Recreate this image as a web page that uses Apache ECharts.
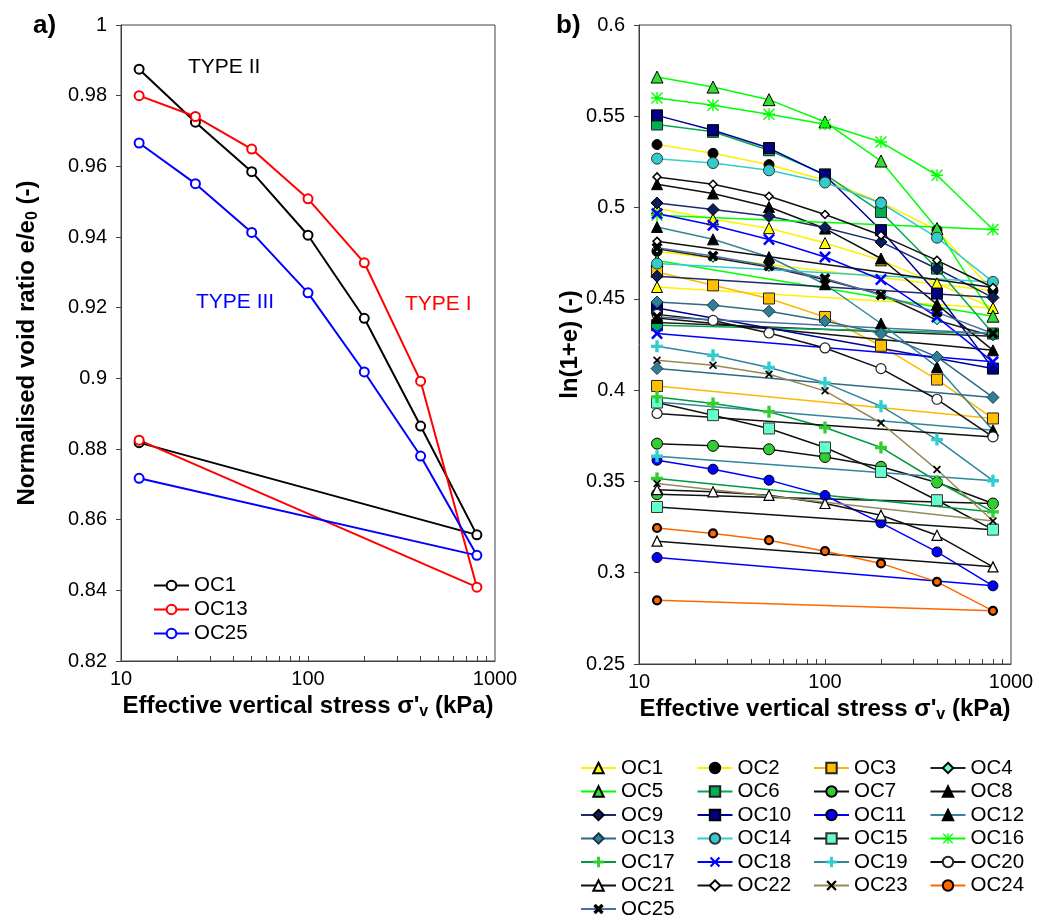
<!DOCTYPE html>
<html><head><meta charset="utf-8">
<script src="https://cdn.jsdelivr.net/npm/echarts@6/dist/echarts.min.js"></script>
<style>html,body{margin:0;padding:0;background:#fff}#c{width:1046px;height:919px}</style>
</head><body><div id="c"></div>
<script>
// ---------- data ----------
const stress = [12.5, 25, 50, 100, 200, 400, 800, 12.5];
const xTicks = [10, 100, 1000];
// panel a: normalised void ratio
const aOC1  = [0.9875, 0.9725, 0.9585, 0.9405, 0.9170, 0.8865, 0.8557, 0.8818];
const aOC13 = [0.9800, 0.9741, 0.9649, 0.9508, 0.9327, 0.8992, 0.8409, 0.8825];
const aOC25 = [0.9666, 0.9551, 0.9413, 0.9242, 0.9018, 0.8780, 0.8499, 0.8717];
// panel b: ln(1+e)
const OC1  = [0.4996, 0.4936, 0.4887, 0.4806, 0.4711, 0.4585, 0.4450, 0.4565];
const OC2  = [0.5345, 0.5297, 0.5235, 0.5150, 0.5030, 0.4876, 0.4545, 0.4760];
const OC3  = [0.4647, 0.4574, 0.4502, 0.4401, 0.4243, 0.4058, 0.3845, 0.4023];
const OC4  = [0.4775, 0.4725, 0.4675, 0.4605, 0.4525, 0.4383, 0.4295, 0.4370];
const OC5  = [0.5715, 0.5660, 0.5591, 0.5469, 0.5255, 0.4885, 0.4405, 0.4710];
const OC6  = [0.5455, 0.5415, 0.5314, 0.5182, 0.4976, 0.4666, 0.4310, 0.4355];
const OC7  = [0.3707, 0.3695, 0.3676, 0.3634, 0.3580, 0.3494, 0.3379, 0.3430];
const OC8  = [0.5128, 0.5077, 0.5003, 0.4885, 0.4721, 0.4470, 0.4218, 0.4395];
const OC9  = [0.5025, 0.4989, 0.4952, 0.4890, 0.4812, 0.4665, 0.4507, 0.4624];
const OC10 = [0.5505, 0.5424, 0.5326, 0.5177, 0.4876, 0.4529, 0.4118, 0.4450];
const OC11 = [0.3616, 0.3567, 0.3507, 0.3423, 0.3273, 0.3114, 0.2928, 0.3083];
const OC12 = [0.4894, 0.4826, 0.4729, 0.4580, 0.4365, 0.4127, 0.3780, 0.3935];
const OC13 = [0.4483, 0.4465, 0.4432, 0.4379, 0.4310, 0.4182, 0.3960, 0.4118];
const OC14 = [0.5268, 0.5244, 0.5204, 0.5137, 0.5025, 0.4835, 0.4593, 0.4693];
const OC15 = [0.3932, 0.3863, 0.3790, 0.3686, 0.3552, 0.3397, 0.3236, 0.3360];
const OC16 = [0.5600, 0.5560, 0.5511, 0.5456, 0.5359, 0.5177, 0.4880, 0.4958];
const OC17 = [0.3963, 0.3927, 0.3882, 0.3795, 0.3686, 0.3501, 0.3333, 0.3516];
const OC18 = [0.4967, 0.4903, 0.4825, 0.4729, 0.4606, 0.4400, 0.4155, 0.4310];
const OC19 = [0.4240, 0.4191, 0.4124, 0.4040, 0.3912, 0.3729, 0.3504, 0.3638];
const OC20 = [0.4415, 0.4382, 0.4313, 0.4231, 0.4118, 0.3950, 0.3744, 0.3872];
const OC21 = [0.3455, 0.3443, 0.3424, 0.3379, 0.3315, 0.3205, 0.3032, 0.3173];
const OC22 = [0.5168, 0.5128, 0.5062, 0.4962, 0.4848, 0.4711, 0.4562, 0.4815];
const OC23 = [0.4164, 0.4136, 0.4087, 0.3996, 0.3820, 0.3565, 0.3283, 0.3488];
const OC24 = [0.3245, 0.3215, 0.3178, 0.3118, 0.3051, 0.2950, 0.2791, 0.2849];
const OC25 = [0.4780, 0.4735, 0.4680, 0.4611, 0.4521, 0.4426, 0.4310, 0.4400];

// ---------- styling ----------
const FONT = 'Liberation Sans, Arial, sans-serif';
const PLUS = 'path://M3.6,0H6.4V3.6H10V6.4H6.4V10H3.6V6.4H0V3.6H3.6Z';
const XS = 'path://M0,1.5L1.5,0L5,3.5L8.5,0L10,1.5L6.5,5L10,8.5L8.5,10L5,6.5L1.5,10L0,8.5L3.5,5Z';
const XB = 'path://M0,2.3L2.3,0L5,2.7L7.7,0L10,2.3L7.3,5L10,7.7L7.7,10L5,7.3L2.3,10L0,7.7L2.7,5Z';
const STAR = 'path://M4.45,0H5.55V10H4.45Z M0,0.8L0.8,0L10,9.2L9.2,10Z M9.2,0L10,0.8L0.8,10L0,9.2Z M0,4.45H10V5.55H0Z';

const bSeries = [
  ['OC1', OC1, 'triangle', 11, '#FFFF00', '#000', 1, '#FFF000'],
  ['OC2', OC2, 'circle', 10, '#000', '#000', 1, '#FFF000'],
  ['OC3', OC3, 'rect', 11, '#FFC000', '#222', 1, '#FFB800'],
  ['OC4', OC4, 'diamond', 9, '#66FFCC', '#000', 1, '#222'],
  ['OC5', OC5, 'triangle', 12, '#33DD33', '#000', 1, '#00FF00'],
  ['OC6', OC6, 'rect', 11, '#00B050', '#222', 1, '#00A850'],
  ['OC7', OC7, 'circle', 11, '#33CC33', '#000', 1, '#111'],
  ['OC8', OC8, 'triangle', 11, '#000', '#000', 1, '#111'],
  ['OC9', OC9, 'diamond', 12, '#0A1F5C', '#000', 1, '#1F2A6B'],
  ['OC10', OC10, 'rect', 11, '#000080', '#000', 1, '#000099'],
  ['OC11', OC11, 'circle', 10, '#0000FF', '#000', 1, '#0000FF'],
  ['OC12', OC12, 'triangle', 11, '#000', '#000', 1, '#31859C'],
  ['OC13', OC13, 'diamond', 12, '#2E7F96', '#1A3A4A', 1, '#2E6A82'],
  ['OC14', OC14, 'circle', 11, '#33CCCC', '#333', 1, '#33CCCC'],
  ['OC15', OC15, 'rect', 11, '#66FFCC', '#333', 1, '#111'],
  ['OC16', OC16, STAR, 12, '#00FF00', '#00FF00', 0, '#00FF00'],
  ['OC17', OC17, PLUS, 12, '#33CC33', '#33CC33', 0, '#009A3E'],
  ['OC18', OC18, XS, 12, '#0000FF', '#0000FF', 0, '#0000FF'],
  ['OC19', OC19, PLUS, 12, '#33CCCC', '#33CCCC', 0, '#31859C'],
  ['OC20', OC20, 'circle', 10, '#FFFFFF', '#222', 1.2, '#111'],
  ['OC21', OC21, 'triangle', 10, '#FFFFFF', '#000', 1.2, '#111'],
  ['OC22', OC22, 'diamond', 8, '#FFFFFF', '#000', 1.5, '#111'],
  ['OC23', OC23, XS, 8, '#000', '#000', 0, '#948A54'],
  ['OC24', OC24, 'circle', 8, '#FF6600', '#000', 2.2, '#FF6600'],
  ['OC25', OC25, XB, 11, '#000', '#000', 0, '#4A6FA5']
];

function pts(vals) { return stress.map((s, i) => [s, vals[i]]); }

const series = [];
[['a-OC1', aOC1, '#000000'], ['a-OC13', aOC13, '#FF0000'], ['a-OC25', aOC25, '#0000FF']].forEach(d => {
  series.push({
    name: d[0], type: 'line', xAxisIndex: 0, yAxisIndex: 0, data: pts(d[1]),
    symbol: 'circle', symbolSize: 9, showAllSymbol: true,
    lineStyle: { color: d[2], width: 2 },
    itemStyle: { color: '#fff', borderColor: d[2], borderWidth: 2 },
    animation: false, z: 3
  });
});
bSeries.forEach(d => {
  series.push({
    name: d[0], type: 'line', xAxisIndex: 1, yAxisIndex: 1, data: pts(d[1]),
    symbol: d[2], symbolSize: d[3], showAllSymbol: true,
    lineStyle: { color: d[7], width: 1.5 },
    itemStyle: { color: d[4], borderColor: d[5], borderWidth: d[6] },
    animation: false
  });
});

const minor = [20, 30, 40, 50, 60, 70, 80, 90, 100, 200, 300, 400, 500, 600, 700, 800, 900];
const axisCol = '#404040';
const titleStyle = { fontFamily: FONT, fontSize: 24, fontWeight: 'bold', color: '#000',
  rich: { sub: { fontFamily: FONT, fontSize: 16, fontWeight: 'bold', color: '#000', padding: [12, 0, 0, 0] } } };
function xAx(grid) {
  return {
    type: 'log', logBase: 10, min: 10, max: 1000, gridIndex: grid,
    name: 'Effective vertical stress σ\'{sub|v} (kPa)', nameLocation: 'middle', nameGap: 28,
    nameTextStyle: titleStyle,
    axisLine: { lineStyle: { color: axisCol, width: 1 } },
    axisTick: { inside: true, length: 5, customValues: minor, lineStyle: { color: axisCol } },
    axisLabel: { fontFamily: FONT, fontSize: 20, color: '#000', margin: 8, customValues: xTicks,
      formatter: v => String(Math.round(v)) },
    splitLine: { show: false }, minorTick: { show: false }
  };
}
const option = {
  backgroundColor: '#fff',
  animation: false,
  grid: [
    { left: 121, top: 25, width: 374, height: 636, show: true, borderColor: axisCol, borderWidth: 1 },
    { left: 639, top: 25, width: 372, height: 639, show: true, borderColor: axisCol, borderWidth: 1 }
  ],
  xAxis: [xAx(0), xAx(1)],
  yAxis: [
    { type: 'value', gridIndex: 0, min: 0.82, max: 1, interval: 0.02,
      name: 'Normalised void ratio e/e{sub|0} (-)', nameLocation: 'middle', nameGap: 80, nameRotate: 90,
      nameTextStyle: titleStyle,
      axisLine: { show: true, lineStyle: { color: axisCol } },
      axisTick: { show: true, inside: false, length: 5, lineStyle: { color: axisCol } },
      axisLabel: { fontFamily: FONT, fontSize: 20, color: '#000', margin: 14 },
      splitLine: { show: false } },
    { type: 'value', gridIndex: 1, min: 0.25, max: 0.6, interval: 0.05,
      name: 'ln(1+e) (-)', nameLocation: 'middle', nameGap: 50, nameRotate: 90,
      nameTextStyle: titleStyle,
      axisLine: { show: true, lineStyle: { color: axisCol } },
      axisTick: { show: true, inside: false, length: 5, lineStyle: { color: axisCol } },
      axisLabel: { fontFamily: FONT, fontSize: 20, color: '#000', margin: 14 },
      splitLine: { show: false } }
  ],
  legend: [
    { data: ['a-OC1', 'a-OC13', 'a-OC25'], left: 153, top: 575, orient: 'vertical', itemGap: 3,
      padding: 0, itemWidth: 35, itemHeight: 12, formatter: n => n.replace('a-', ''),
      textStyle: { fontFamily: FONT, fontSize: 20.5, color: '#000', lineHeight: 21 }, selectedMode: false }
  ].concat([0, 1, 2, 3].map(c => ({
    data: bSeries.filter((s, i) => i % 4 === c).map(s => s[0]),
    left: 580 + c * 116.5, top: 757.5, height: 300, orient: 'vertical', itemGap: 2.5, padding: 0,
    itemWidth: 35, itemHeight: 13, selectedMode: false,
    textStyle: { fontFamily: FONT, fontSize: 20.5, color: '#000', lineHeight: 21 }
  }))),
  graphic: [
    { type: 'text', left: 33, top: 13, style: { text: 'a)', font: 'bold 26px ' + FONT, fill: '#000' } },
    { type: 'text', left: 556, top: 13, style: { text: 'b)', font: 'bold 26px ' + FONT, fill: '#000' } },
    { type: 'text', left: 188, top: 57, style: { text: 'TYPE II', font: '21px ' + FONT, fill: '#000' } },
    { type: 'text', left: 196, top: 292, style: { text: 'TYPE III', font: '21px ' + FONT, fill: '#0000FF' } },
    { type: 'text', left: 405, top: 294, style: { text: 'TYPE I', font: '21px ' + FONT, fill: '#FF0000' } }
  ],
  series: series
};
const chart = echarts.init(document.getElementById('c'), null, { renderer: 'canvas' });
chart.setOption(option);
</script></body></html>
